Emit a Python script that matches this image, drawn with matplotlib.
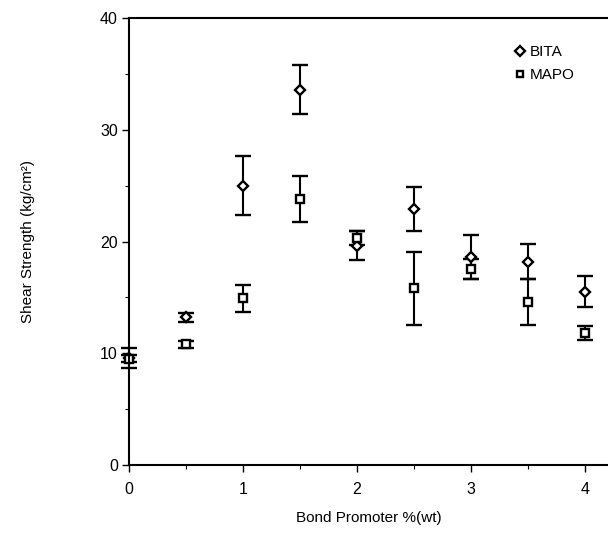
"""Shear strength vs bond promoter content, BITA and MAPO."""

import matplotlib

matplotlib.use("Agg")

import matplotlib.pyplot as plt  # noqa: E402
from matplotlib.lines import Line2D  # noqa: E402
from matplotlib.ticker import MultipleLocator  # noqa: E402

plt.rcParams["font.family"] = ["Liberation Sans", "DejaVu Sans"]

promoter = [0, 0.5, 1, 1.5, 2, 2.5, 3, 3.5, 4]
bita = [9.6, 13.2, 25.0, 33.6, 19.6, 22.9, 18.6, 18.2, 15.5]
bita_err = [0.9, 0.4, 2.65, 2.2, 1.3, 1.95, 2.0, 1.6, 1.4]
mapo = [9.5, 10.8, 14.9, 23.8, 20.3, 15.8, 17.5, 14.6, 11.8]
mapo_err = [0.3, 0.3, 1.25, 2.05, 0.6, 3.25, 0.9, 2.05, 0.65]

fig = plt.figure(figsize=(6.08, 5.4), dpi=100)
ax = fig.add_axes([129 / 608, 75 / 540, 1 - 129 / 608, 447 / 540])

style = dict(color="black", linestyle="none", markerfacecolor="white",
             markeredgecolor="black", markeredgewidth=1.7, elinewidth=1.5,
             capsize=6, capthick=1.5)
for values, errors, marker in ((bita, bita_err, "D"), (mapo, mapo_err, "s")):
    container = ax.errorbar(promoter, values, yerr=errors, marker=marker,
                            markersize=5.5, **style)
    for artist in container.get_children():
        artist.set_clip_on(False)

ax.set_xlim(0, 4.2)
ax.set_ylim(0, 40)
ax.xaxis.set_major_locator(MultipleLocator(1))
ax.xaxis.set_minor_locator(MultipleLocator(0.5))
ax.yaxis.set_major_locator(MultipleLocator(10))
ax.yaxis.set_minor_locator(MultipleLocator(5))
ax.tick_params(which="major", length=5, width=1, labelsize=11.5)
ax.tick_params(axis="x", which="major", pad=7)
ax.tick_params(axis="y", which="major", pad=3)
ax.tick_params(which="minor", length=3, width=0.8)
for side in ("left", "bottom", "top"):
    ax.spines[side].set_linewidth(1.5)
ax.spines["right"].set_visible(False)

ax.set_xlabel("Bond Promoter %(wt)", fontsize=11, labelpad=10)
ax.set_ylabel("Shear Strength (kg/cm²)", fontsize=11, labelpad=47)

marker_kw = dict(color="black", linestyle="none", markerfacecolor="white",
                 markeredgewidth=1.7, markersize=5)
handles = [Line2D([], [], marker="D", label="BITA", **marker_kw),
           Line2D([], [], marker="s", label="MAPO", **marker_kw)]
ax.legend(handles=handles, loc="upper right", bbox_to_anchor=(0.96, 0.97),
          frameon=False, fontsize=11, handletextpad=0.1, labelspacing=0.6,
          handlelength=1.2)

fig.savefig("out.png", dpi=100)
plt.close(fig)
